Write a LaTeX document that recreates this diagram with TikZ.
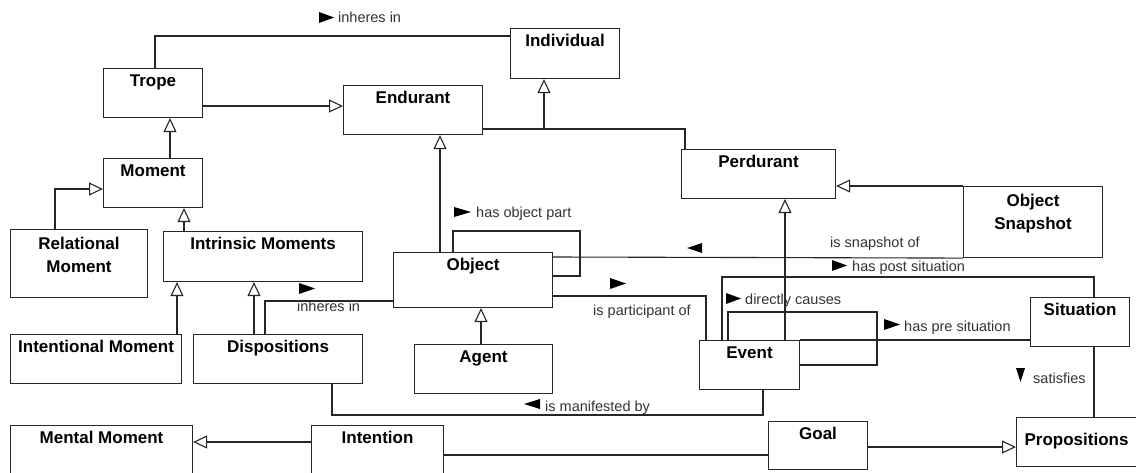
\documentclass[tikz,border=0pt]{standalone}
\usepackage{fontspec}
\setmainfont{Liberation Sans}
\usetikzlibrary{arrows.meta}
\tikzset{
  cls/.style={draw=black!85, line width=1.1pt, fill=white, anchor=north west, inner sep=0pt,
    font=\fontsize{17}{23}\selectfont\bfseries, text height=18pt, text depth=31pt, minimum height=49pt},
  conn/.style={draw=black!85, line width=1.1pt},
  gen/.style={conn, -{Triangle[open, length=14pt, width=13pt, line width=1.1pt]}},
  lbl/.style={anchor=base west, inner sep=0pt, text=black!80, font=\fontsize{14.5}{17}\selectfont},
  lmark/.style={fill=black}
}
\newcommand{\twol}[2]{\begin{tabular}[t]{@{}c@{}}#1\\#2\end{tabular}}
\begin{document}
\begin{tikzpicture}[x=1pt,y=-1pt]
\useasboundingbox[fill=white] (0,0) rectangle (1136,473);

% boxes
\node[cls, minimum width=109pt, minimum height=50pt, text depth=32pt] (individual) at (510,28) {Individual};
\node[cls, minimum width=99pt] (trope) at (103,68) {Trope};
\node[cls, minimum width=139pt] (endurant) at (343,85) {Endurant};
\node[cls, minimum width=99pt] (moment) at (103,158) {Moment};
\node[cls, minimum width=154pt] (perd) at (681,149) {Perdurant};
\node[cls, minimum width=139pt, minimum height=71pt, text height=20pt, text depth=51pt] (osnap) at (963,186) {\twol{Object}{Snapshot}};
\node[cls, minimum width=137pt, minimum height=68pt, text height=20pt, text depth=48pt] (relm) at (10,229) {\twol{Relational}{Moment}};
\node[cls, minimum width=199pt, minimum height=50pt, text depth=32pt] (intr) at (163,231) {Intrinsic Moments};
\node[cls, minimum width=159pt, minimum height=55pt, text depth=37pt] (object) at (393,252) {Object};
\node[cls, minimum width=171pt] (intm) at (10,334) {Intentional Moment};
\node[cls, minimum width=169pt] (disp) at (193,334) {Dispositions};
\node[cls, minimum width=138pt] (agent) at (414,344) {Agent};
\node[cls, minimum width=100pt] (event) at (699,340) {Event};
\node[cls, minimum width=99pt] (sit) at (1030,297) {Situation};
\node[cls, minimum width=182pt, minimum height=60pt, text depth=42pt] (mental) at (10,425) {Mental Moment};
\node[cls, minimum width=132pt, minimum height=60pt, text depth=42pt] (intention) at (311,425) {Intention};
\node[cls, minimum width=99pt, minimum height=48pt, text depth=30pt] (goal) at (768,421) {Goal};
\node[cls, minimum width=120pt, text height=28pt, text depth=21pt] (prop) at (1016,417) {Propositions};

% connectors
\draw[conn] (155,0 |- trope.north) |- (individual.west |- 0,36);
\draw[gen] (trope.east |- 0,106) -- (endurant.west |- 0,106);
\draw[gen] (170,0 |- moment.north) -- (170,0 |- trope.south);
\draw[gen] (55,0 |- relm.north) |- (moment.west |- 0,189);
\draw[gen] (184,0 |- intr.north) -- (184,0 |- moment.south);
\draw[gen] (177,0 |- intm.north) -- (177,0 |- intr.south);
\draw[gen] (254,0 |- disp.north) -- (254,0 |- intr.south);
\draw[conn] (265,0 |- disp.north) |- (object.west |- 0,301);
\draw[conn] (332,0 |- disp.south) -- (332,415) -- (763,415) -- (763,0 |- event.south);
\draw[gen] (intention.west |- 0,442) -- (mental.east |- 0,442);
\draw[conn] (intention.east |- 0,455) -- (goal.west |- 0,455);
\draw[gen] (goal.east |- 0,447) -- (prop.west |- 0,447);
\draw[conn] (1094,0 |- sit.south) -- (1094,0 |- prop.north);
\draw[conn] (endurant.east |- 0,129) -| (685,0 |- perd.north);
\draw[gen, line width=2pt] (544,129) -- (544,0 |- individual.south);
\draw[gen] (440,0 |- object.north) -- (440,0 |- endurant.south);
\draw[conn] (453,0 |- object.north) |- (580,231) |- (object.east |- 0,276);
\draw[gen] (481,0 |- agent.north) -- (481,0 |- object.south);
\draw[conn] (object.east |- 0,257) -- (osnap.south west);
\draw[gen] (osnap.north west) -- (perd.east |- osnap.north west);
\draw[gen] (785,0 |- event.north) -- (785,0 |- perd.south);
\draw[conn] (object.east |- 0,296) -| (706,0 |- event.north);
\draw[conn] (722,0 |- event.north) |- (1094,277) -- (1094,0 |- sit.north);
\draw[conn] (728,0 |- event.north) |- (877,312) |- (event.east |- 0,365);
\draw[conn] (event.north east) -- (sit.west |- event.north east);

% labels
\fill[lmark] (319,12) -- (334,17.5) -- (319,23) -- cycle;
\node[lbl] (l1) at (338,23) {inheres in};
\fill[lmark] (454,207) -- (471,212) -- (454,217) -- cycle;
\node[lbl] (l2) at (476,218) {has object part};
\fill[lmark] (299,283) -- (315,288.5) -- (299,294) -- cycle;
\node[lbl] (l3) at (297,312) {inheres in};
\fill[lmark] (702,243) -- (687,248) -- (702,253) -- cycle;
\node[lbl] (l4) at (830,248) {is snapshot of};
\fill[lmark] (610,278) -- (626,283.5) -- (610,289) -- cycle;
\node[lbl] (l5) at (593,316) {is participant of};
\fill[lmark] (832,260) -- (847,265.5) -- (832,271) -- cycle;
\node[lbl] (l6) at (852,272) {has post situation};
\fill[lmark] (726,293) -- (741,298.5) -- (726,304) -- cycle;
\node[lbl] (l7) at (745,305) {directly causes};
\fill[lmark] (884,319) -- (900,324.5) -- (884,330) -- cycle;
\node[lbl] (l8) at (904,331) {has pre situation};
\fill[lmark] (1016,368) -- (1025,368) -- (1020.5,382) -- cycle;
\node[lbl] (l9) at (1033,383) {satisfies};
\fill[lmark] (540,399) -- (524,404) -- (540,409) -- cycle;
\node[lbl] (l10) at (545,411) {is manifested by};
\end{tikzpicture}
\end{document}
